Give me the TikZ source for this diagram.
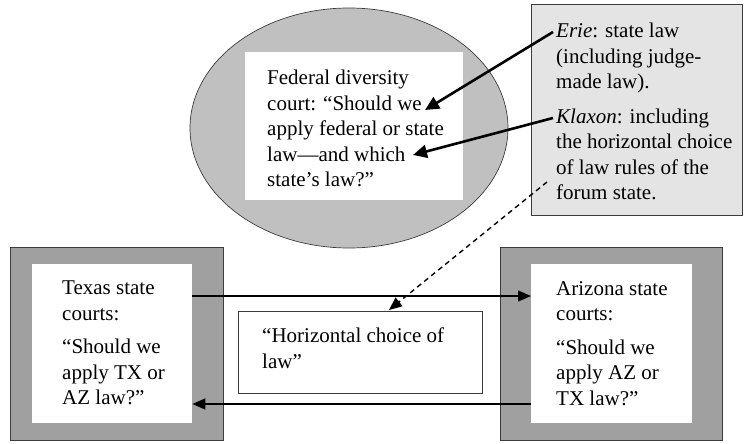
\documentclass[tikz,border=0pt]{standalone}
\usepackage{fontspec}
\setmainfont{Liberation Serif}
\usetikzlibrary{arrows.meta,shapes.geometric}
\definecolor{ellgray}{RGB}{192,192,192}
\definecolor{notegray}{RGB}{228,228,228}
\definecolor{framegray}{RGB}{160,160,160}
\definecolor{edgegray}{RGB}{60,60,60}
\begin{document}
\begin{tikzpicture}[x=1pt,y=-1pt,
  txt/.style={font=\fontsize{21}{25.5}\selectfont, align=left, inner sep=0pt, anchor=north west},
  whitebox/.style={fill=white, draw=none, inner sep=0pt, anchor=north west},
  framebox/.style={fill=framegray, draw=edgegray, line width=0.8pt, inner sep=0pt, anchor=north west},
  thickarr/.style={line width=2.6pt, -{Triangle[length=14pt,width=13pt]}},
  thinarr/.style={line width=1.3pt, -{Triangle[length=13pt,width=11pt]}},
  dasharr/.style={line width=1.4pt, dash pattern=on 5pt off 4pt, -{Triangle[length=13pt,width=11pt]}}
]
\useasboundingbox (0,0) rectangle (744,444);
% federal court ellipse
\node[ellipse, draw=edgegray, line width=0.7pt, fill=ellgray, minimum width=318pt, minimum height=240pt, inner sep=0pt] (ell) at (349,128) {};
\node[whitebox, minimum width=218pt, minimum height=148pt] (fedbox) at (245,52) {};
\node[txt] (fed) at (267,70) {Federal diversity\\court: “Should we\\apply federal or state\\law—and which\\state’s law?”};
% note box
\node[fill=notegray, draw=edgegray, line width=0.8pt, inner sep=0pt, anchor=north west, minimum width=211pt, minimum height=211pt] (notebox) at (531,4) {};
\node[txt] (note) at (556,23) {\textit{Erie}: state law\\(including judge-\\made law).\\[9pt]\textit{Klaxon}: including\\the horizontal choice\\of law rules of the\\forum state.};
% Texas
\node[framebox, minimum width=213pt, minimum height=193pt] (txframe) at (10,247) {};
\node[whitebox, minimum width=160pt, minimum height=159pt] (txbox) at (32,264) {};
\node[txt] (tx) at (62,281) {Texas state\\courts:\\[8pt]“Should we\\apply TX or\\AZ law?”};
% Arizona
\node[framebox, minimum width=222pt, minimum height=193pt] (azframe) at (500,247) {};
\node[whitebox, minimum width=161pt, minimum height=159pt] (azbox) at (531,264) {};
\node[txt] (az) at (556,281) {Arizona state\\courts:\\[8pt]“Should we\\apply AZ or\\TX law?”};
% horizontal choice
\node[draw=edgegray, line width=0.8pt, fill=white, inner sep=0pt, anchor=north west, minimum width=244pt, minimum height=82pt] (hbox) at (238,311) {};
\node[txt] (hc) at (262,328) {“Horizontal choice of\\law”};
% connectors
\coordinate (erieA) at (553,32);
\coordinate (erieB) at (425,110);
\coordinate (klaxA) at (553,118);
\coordinate (klaxB) at (413,155);
\coordinate (dashA) at (547,182);
\coordinate (dashB) at (389,310);
\coordinate (row1) at (0,296);
\coordinate (row2) at (0,404);
\draw[thickarr] (erieA) -- (erieB);
\draw[thickarr] (klaxA) -- (klaxB);
\draw[dasharr] (dashA) -- (dashB);
\draw[thinarr] (txbox.east |- row1) -- (azbox.west |- row1);
\draw[thinarr] (azbox.west |- row2) -- (txbox.east |- row2);
\end{tikzpicture}
\end{document}
